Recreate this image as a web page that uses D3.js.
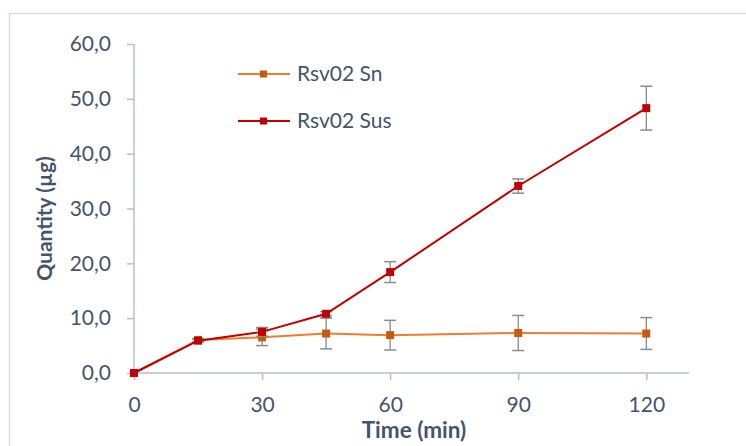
<!DOCTYPE html>
<html><head><meta charset="utf-8">
<script src="https://cdn.jsdelivr.net/npm/d3@7"></script>
<style>body{margin:0;background:#fff}svg{display:block}</style>
</head><body>
<script>
const times = [0, 15, 30, 45, 60, 90, 120];
const snValues = [0, 6.0, 6.5, 7.2, 6.9, 7.3, 7.2];
const snErrors = [0, 0.3, 1.5, 2.8, 2.7, 3.2, 2.9];
const susValues = [0, 5.9, 7.5, 10.8, 18.4, 34.1, 48.3];
const susErrors = [0, 0.3, 0.8, 0.4, 1.9, 1.3, 4.0];
const yTicks = [0, 10, 20, 30, 40, 50, 60];
const xTicks = [0, 30, 60, 90, 120];
const seriesNames = ["Rsv02 Sn", "Rsv02 Sus"];

const W = 746, H = 446;
const svg = d3.select("body").append("svg").attr("width", W).attr("height", H);
const textColor = "#44546a";
const axisColor = "#b4bfd1";
const font = "Lato, sans-serif";
const fs = "21px";

svg.append("rect").attr("x", 9.5).attr("y", 13.5).attr("width", 760).attr("height", 460)
  .attr("fill", "#fff").attr("stroke", "#d9dde4").attr("stroke-width", 1.5);

const x = d3.scaleLinear().domain([0, 130]).range([134, 689]);
const y = d3.scaleLinear().domain([0, 60]).range([373, 44]);

// Y axis
const yAxis = svg.append("g").attr("transform", "translate(134,0)")
  .call(d3.axisLeft(y).tickValues(yTicks).tickSize(7).tickPadding(16)
    .tickFormat(d => d3.format(".1f")(d).replace(".", ",")));
yAxis.select(".domain").attr("stroke", axisColor).attr("stroke-width", 1.5).attr("d", "M0," + y(60) + "V" + y(0));
yAxis.selectAll(".tick line").attr("stroke", axisColor).attr("stroke-width", 1.5);
yAxis.selectAll(".tick text").attr("fill", textColor).style("font-family", font).style("font-size", fs);

// X axis
const xAxis = svg.append("g").attr("transform", "translate(0,373)")
  .call(d3.axisBottom(x).tickValues(xTicks).tickSize(7).tickPadding(17));
xAxis.select(".domain").attr("stroke", axisColor).attr("stroke-width", 1.5).attr("d", "M" + x(0) + ",0H" + x(130));
xAxis.selectAll(".tick line").attr("stroke", axisColor).attr("stroke-width", 1.5);
xAxis.selectAll(".tick text").attr("fill", textColor).style("font-family", font).style("font-size", fs);

// Axis titles
svg.append("text").attr("transform", "translate(52,218.5) rotate(-90)")
  .attr("text-anchor", "middle").attr("fill", textColor)
  .style("font-family", font).style("font-size", "21px").style("font-weight", "bold")
  .text("Quantity (µg)");
svg.append("text").attr("x", 414).attr("y", 438)
  .attr("text-anchor", "middle").attr("fill", textColor)
  .style("font-family", font).style("font-size", "22.5px").style("font-weight", "bold")
  .text("Time (min)");

const series = [
  {name: seriesNames[0], values: snValues, errors: snErrors, line: "#ed7d31", marker: "#c55a11"},
  {name: seriesNames[1], values: susValues, errors: susErrors, line: "#c00000", marker: "#c00000"}
];

const line = d3.line().x(d => x(d.t)).y(d => y(d.v));

series.forEach(s => {
  const pts = times.map((t, i) => ({t, v: s.values[i], e: s.errors[i]}));
  const g = svg.append("g");
  const eb = g.selectAll(".eb").data(pts.filter(p => p.e > 0)).enter().append("g");
  eb.append("line").attr("x1", d => x(d.t)).attr("x2", d => x(d.t))
    .attr("y1", d => y(d.v - d.e)).attr("y2", d => y(d.v + d.e))
    .attr("stroke", "#7f7f7f").attr("stroke-width", 1.2);
  [1, -1].forEach(sgn => {
    eb.append("line").attr("x1", d => x(d.t) - 6).attr("x2", d => x(d.t) + 6)
      .attr("y1", d => y(d.v + sgn * d.e)).attr("y2", d => y(d.v + sgn * d.e))
      .attr("stroke", "#8c8c8c").attr("stroke-width", 1.5);
  });
  g.append("path").datum(pts).attr("d", line).attr("fill", "none")
    .attr("stroke", s.line).attr("stroke-width", 2);
  g.selectAll(".m").data(pts).enter().append("rect")
    .attr("x", d => x(d.t) - 4).attr("y", d => y(d.v) - 4)
    .attr("width", 8).attr("height", 8).attr("fill", s.marker);
});

// Legend
const legend = svg.append("g");
series.forEach((s, i) => {
  const ly = 74 + i * 47;
  legend.append("line").attr("x1", 238).attr("x2", 290).attr("y1", ly).attr("y2", ly)
    .attr("stroke", s.line).attr("stroke-width", 2);
  legend.append("rect").attr("x", 260).attr("y", ly - 3.5).attr("width", 7).attr("height", 7).attr("fill", s.marker);
  legend.append("text").attr("x", 297).attr("y", ly + 7).attr("fill", textColor)
    .style("font-family", font).style("font-size", fs).text(s.name);
});
</script>
</body></html>
